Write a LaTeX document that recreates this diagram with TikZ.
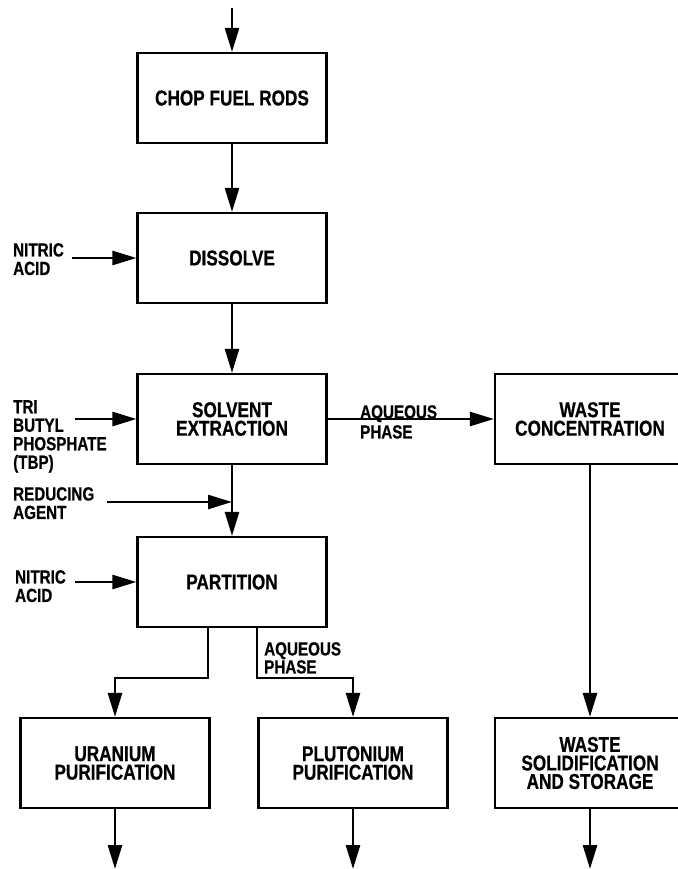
\documentclass[tikz,border=0pt]{standalone}
\usepackage{fontspec}
\newfontfamily\flowfont{Liberation Sans}[FakeStretch=0.8, FakeBold=0.6]
\usetikzlibrary{arrows.meta,positioning,calc}

\begin{document}
\begin{tikzpicture}[x=1pt, y=1pt, >={Triangle[length=24pt,width=14pt]},
  stepbox/.style={draw, line width=2.2pt, minimum width=189pt, minimum height=90pt,
    inner sep=0pt, align=center, font=\flowfont\bfseries\fontsize{21.5}{18.5}\selectfont},
  feed/.style={anchor=north west, inner sep=0pt, align=left,
    font=\flowfont\bfseries\fontsize{19}{18.5}\selectfont},
  flow/.style={->, line width=2.6pt}]
\useasboundingbox (0,0) rectangle (677,-869);
% ---------- main line ----------
\node[stepbox] (chop) at (232,-98) {CHOP FUEL RODS};
\node[stepbox] (dissolve) at (232,-258) {DISSOLVE};
\node[stepbox] (solvent) at (232,-419) {SOLVENT\\EXTRACTION};
\node[stepbox] (partition) at (232,-582) {PARTITION};
\node[stepbox] (uranium) at (115,-763) {URANIUM\\PURIFICATION};
\node[stepbox] (pluto) at (353,-763) {PLUTONIUM\\PURIFICATION};
% ---------- waste side ----------
\node[stepbox, minimum width=190pt] (wconc) at (590,-419) {WASTE\\CONCENTRATION};
\node[stepbox, minimum width=190pt] (wsolid) at (590,-763) {WASTE\\SOLIDIFICATION\\AND STORAGE};

% feed labels
\node[feed] (acidA) at (13,-243) {NITRIC\\ACID};
\node[feed] (tbp) at (13,-400) {TRI\\BUTYL\\PHOSPHATE\\(TBP)};
\node[feed] (reduce) at (13,-487) {REDUCING\\AGENT};
\node[feed] (acidB) at (15,-570) {NITRIC\\ACID};
\node[feed, font=\flowfont\bfseries\fontsize{19}{20}\selectfont] (aqA) at (360,-405) {AQUEOUS\\PHASE};
\node[feed, font=\flowfont\bfseries\fontsize{19}{17}\selectfont] (aqB) at (264,-642) {AQUEOUS\\PHASE};

% free ends
\coordinate (fuelin) at (232,-8);
\coordinate (acidAin) at (72,-258);
\coordinate (tbpin) at (75,-419);
\coordinate (reducein) at (107,-502);
\coordinate (acidBin) at (75,-582);
\coordinate (uout) at (115,-869);
\coordinate (puout) at (353,-869);
\coordinate (wout) at (590,-869);

% ---------- connectors ----------
\draw[flow] (fuelin) -- (chop);
\draw[flow] (chop) -- (dissolve);
\draw[flow] (dissolve) -- (solvent);
\draw[flow] (solvent) -- (partition);
\draw[flow] (solvent) -- (wconc);
\draw[flow] (wconc) -- (wsolid);
\draw[flow] (acidAin) -- (dissolve);
\draw[flow] (tbpin) -- (solvent);
\draw[flow] (reducein) -- (reducein -| partition.north);
\draw[flow] (acidBin) -- (partition);
% partition splits into the two product streams
\draw[flow] ($(partition.south)+(-24,0)$) -- ++(0,-50) -| (uranium.north);
\draw[flow] ($(partition.south)+(25,0)$) -- ++(0,-50) -| (pluto.north);
\draw[flow] (uranium) -- (uout);
\draw[flow] (pluto) -- (puout);
\draw[flow] (wsolid) -- (wout);
\end{tikzpicture}
\end{document}
